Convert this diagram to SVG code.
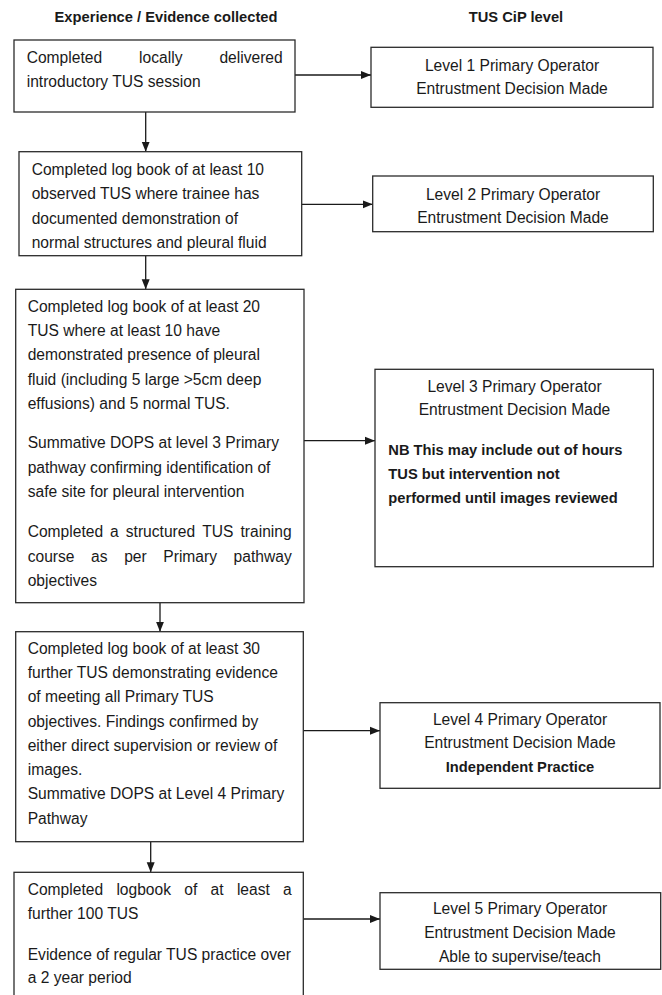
<svg xmlns="http://www.w3.org/2000/svg" width="662" height="995" viewBox="0 0 662 995">
<style>
.box{fill:#fff;stroke:#2b2b2b;stroke-width:1.3}
.t{font-family:"Liberation Sans",Arial,sans-serif;font-size:15.6px;fill:#1a1a1a}
.b{font-family:"Liberation Sans",Arial,sans-serif;font-size:14.7px;font-weight:bold;fill:#1a1a1a}
.c{text-anchor:middle}
.e{text-anchor:end}
.conn{stroke:#1a1a1a;stroke-width:1.3;fill:none;marker-end:url(#ah)}
</style>
<defs>
<marker id="ah" markerUnits="userSpaceOnUse" markerWidth="10" markerHeight="10" viewBox="0 0 10 10" refX="10" refY="5" orient="auto">
<path d="M0,1 L10,5 L0,9 Z" fill="#1a1a1a"/>
</marker>
<clipPath id="l5clip"><rect x="380" y="892" width="281" height="77"/></clipPath>
</defs>
<rect width="662" height="995" fill="#fff"/>

<g id="headers">
<text class="b c" x="166" y="22">Experience / Evidence collected</text>
<text class="b c" x="516" y="22">TUS CiP level</text>
</g>

<g id="connectors">
<line class="conn" x1="295" y1="75" x2="371" y2="75"/>
<line class="conn" x1="301.7" y1="204.3" x2="372.7" y2="204.3"/>
<line class="conn" x1="304" y1="440.7" x2="375" y2="440.7"/>
<line class="conn" x1="303.3" y1="730.7" x2="380" y2="730.7"/>
<line class="conn" x1="303.3" y1="919" x2="380" y2="919"/>
<line class="conn" x1="145.7" y1="112" x2="145.7" y2="151.7"/>
<line class="conn" x1="145.7" y1="255.7" x2="145.7" y2="289.3"/>
<line class="conn" x1="160" y1="602.7" x2="160" y2="631.7"/>
<line class="conn" x1="150.7" y1="841.7" x2="150.7" y2="872.3"/>
</g>

<g id="box1">
<rect class="box" x="14" y="40" width="281" height="72"/>
<text class="t" y="63"><tspan x="26.7">Completed</tspan><tspan x="139.1">locally</tspan><tspan x="282.7" class="e">delivered</tspan></text>
<text class="t" x="26.7" y="87">introductory TUS session</text>
</g>

<g id="level1">
<rect class="box" x="371" y="47.3" width="282" height="60"/>
<text class="t c" x="512" y="71">Level 1 Primary Operator</text>
<text class="t c" x="512" y="94.3">Entrustment Decision Made</text>
</g>

<g id="box2">
<rect class="box" x="19" y="151.7" width="282.7" height="104"/>
<text class="t" x="31.7" y="175">Completed log book of at least 10</text>
<text class="t" x="31.7" y="199.3">observed TUS where trainee has</text>
<text class="t" x="31.7" y="223.6">documented demonstration of</text>
<text class="t" x="31.7" y="247.8">normal structures and pleural fluid</text>
</g>

<g id="level2">
<rect class="box" x="372.7" y="176" width="280.6" height="55.7"/>
<text class="t c" x="513" y="200">Level 2 Primary Operator</text>
<text class="t c" x="513" y="223.3">Entrustment Decision Made</text>
</g>

<g id="box3">
<rect class="box" x="15.7" y="289.3" width="288.3" height="313.4"/>
<text class="t" x="27.7" y="311.7">Completed log book of at least 20</text>
<text class="t" x="27.7" y="336">TUS where at least 10 have</text>
<text class="t" x="27.7" y="360.3">demonstrated presence of pleural</text>
<text class="t" x="27.7" y="384.5">fluid (including 5 large &gt;5cm deep</text>
<text class="t" x="27.7" y="408.7">effusions) and 5 normal TUS.</text>
<text class="t" x="27.7" y="448.3">Summative DOPS at level 3 Primary</text>
<text class="t" x="27.7" y="472.6">pathway confirming identification of</text>
<text class="t" x="27.7" y="496.8">safe site for pleural intervention</text>
<text class="t" y="537.2"><tspan x="27.7">Completed</tspan><tspan x="110.1">a</tspan><tspan x="125.8">structured</tspan><tspan x="202.2">TUS</tspan><tspan x="291.7" class="e">training</tspan></text>
<text class="t" y="561.5"><tspan x="27.7">course</tspan><tspan x="91.1">as</tspan><tspan x="124.2">per</tspan><tspan x="163.3">Primary</tspan><tspan x="291.7" class="e">pathway</tspan></text>
<text class="t" x="27.7" y="585.7">objectives</text>
</g>

<g id="level3">
<rect class="box" x="375" y="369.3" width="278.3" height="197.4"/>
<text class="t c" x="514.5" y="391.7">Level 3 Primary Operator</text>
<text class="t c" x="514.5" y="415">Entrustment Decision Made</text>
<text class="b" x="388.3" y="455">NB This may include out of hours</text>
<text class="b" x="388.3" y="478.5">TUS but intervention not</text>
<text class="b" x="388.3" y="502.7">performed until images reviewed</text>
</g>

<g id="box4">
<rect class="box" x="15.7" y="631.7" width="287.6" height="210"/>
<text class="t" x="27.7" y="654">Completed log book of at least 30</text>
<text class="t" x="27.7" y="678.3">further TUS demonstrating evidence</text>
<text class="t" x="27.7" y="702.3">of meeting all Primary TUS</text>
<text class="t" x="27.7" y="726.6">objectives. Findings confirmed by</text>
<text class="t" x="27.7" y="750.7">either direct supervision or review of</text>
<text class="t" x="27.7" y="775">images.</text>
<text class="t" x="27.7" y="799.3">Summative DOPS at Level 4 Primary</text>
<text class="t" x="27.7" y="823.5">Pathway</text>
</g>

<g id="level4">
<rect class="box" x="380" y="702.7" width="280" height="85.6"/>
<text class="t c" x="520" y="725">Level 4 Primary Operator</text>
<text class="t c" x="520" y="748.3">Entrustment Decision Made</text>
<text class="b c" x="520" y="771.7">Independent Practice</text>
</g>

<g id="box5">
<rect class="box" x="14" y="872.3" width="289.3" height="140"/>
<text class="t" y="895"><tspan x="27.7">Completed</tspan><tspan x="116.4">logbook</tspan><tspan x="184.3">of</tspan><tspan x="210.6">at</tspan><tspan x="236.9">least</tspan><tspan x="291.7" class="e">a</tspan></text>
<text class="t" x="27.7" y="919.3">further 100 TUS</text>
<text class="t" x="27.7" y="959.5">Evidence of regular TUS practice over</text>
<text class="t" x="27.7" y="983.3">a 2 year period</text>
</g>

<g id="level5">
<rect class="box" x="380" y="892.7" width="280.7" height="76.6"/>
<g clip-path="url(#l5clip)">
<text class="t c" x="520" y="914">Level 5 Primary Operator</text>
<text class="t c" x="520" y="938.3">Entrustment Decision Made</text>
<text class="t c" x="520" y="961.7">Able to supervise/teach</text>
</g>
</g>
</svg>
